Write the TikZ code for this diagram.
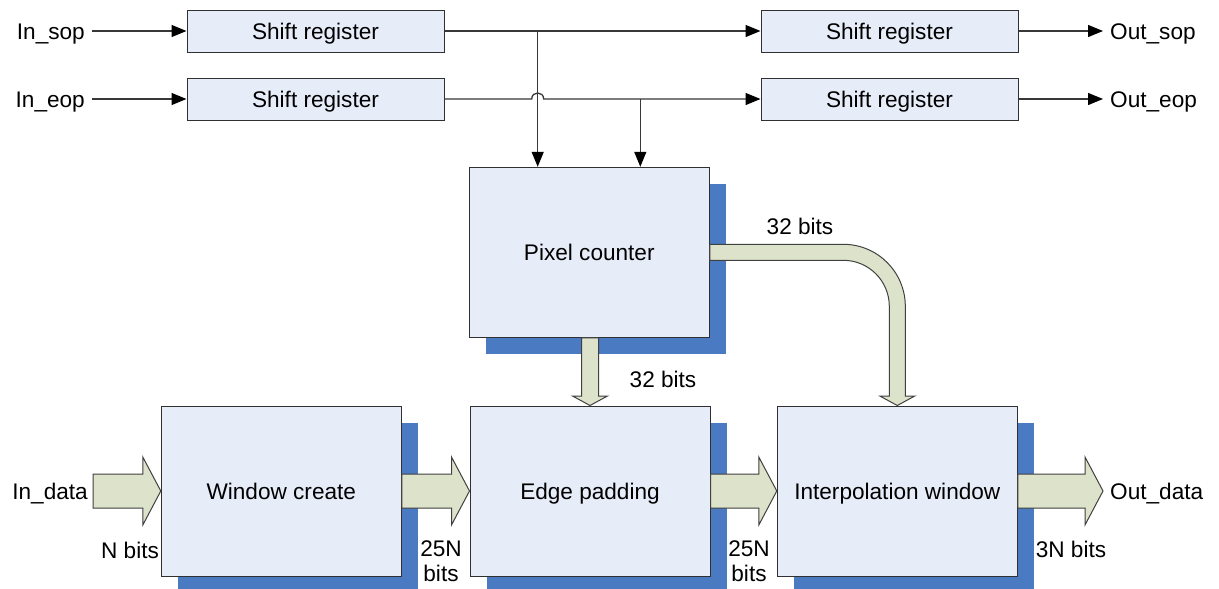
\documentclass[tikz,border=0pt]{standalone}
\usepackage{fontspec}
\setmainfont{Liberation Sans}
\usetikzlibrary{arrows.meta,calc,shadows}

\definecolor{boxfill}{HTML}{E7EDF8}
\definecolor{boxline}{HTML}{303030}
\definecolor{shadowblue}{HTML}{4A7AC2}
\definecolor{busfill}{HTML}{DDE2CB}
\definecolor{busline}{HTML}{404040}
\definecolor{wire}{HTML}{383838}

\tikzset{
  txt/.style={font=\fontsize{22.6}{25}\selectfont, inner sep=7pt,
    text height=16.2pt, text depth=0pt},
  txtml/.style={font=\fontsize{22.6}{25}\selectfont, inner sep=7pt},
  regbox/.style={txt, draw=boxline, fill=boxfill, line width=1pt,
    minimum width=257pt, minimum height=42pt},
  unitbox/.style={txt, draw=boxline, fill=boxfill, line width=1pt,
    minimum width=240pt, minimum height=170pt,
    drop shadow={shadow xshift=17pt, shadow yshift=-17pt,
      fill=shadowblue, draw=none, opacity=1}},
  signal/.style={draw=wire, line width=1.3pt,
    -{Triangle[length=15pt,width=12pt,color=black]}},
  blockarrow/.style={draw=busline, fill=busfill, line width=1pt, line join=miter},
}

% horizontal bus arrow: from #1 to the tip #2 (same height)
\newcommand\hbus[2]{%
  \draw[blockarrow] ($(#1)+(0,-17)$) -- ($(#2)+(-18,-17)$) -- ($(#2)+(-18,-34)$)
    -- (#2) -- ($(#2)+(-18,34)$) -- ($(#2)+(-18,17)$) -- ($(#1)+(0,17)$) -- cycle;}
% vertical bus arrow: from #1 down to the tip #2
\newcommand\vbus[2]{%
  \draw[blockarrow] ($(#1)+(-8.5,0)$) -- ($(#2)+(-8.5,-9.5)$) -- ($(#2)+(-17.5,-9.5)$)
    -- (#2) -- ($(#2)+(17.5,-9.5)$) -- ($(#2)+(8.5,-9.5)$) -- ($(#1)+(8.5,0)$) -- cycle;}

\begin{document}
\begin{tikzpicture}[x=1pt,y=-1pt]
\useasboundingbox (0,0) rectangle (1219,589);
\clip (0,0) rectangle (1219,589);

% shift registers
\node[regbox] (sr1) at (315.5,31) {Shift register};
\node[regbox] (sr2) at (315.5,99) {Shift register};
\node[regbox] (sr3) at (889.5,31) {Shift register};
\node[regbox] (sr4) at (889.5,99) {Shift register};

% processing units
\node[unitbox] (pc) at (589.3,252.3) {Pixel counter};
\node[unitbox] (wc) at (281.3,491) {Window create};
\node[unitbox] (ep) at (590,491) {Edge padding};
\node[unitbox] (im) at (897.3,491) {Interpolation window};

% port labels
\node[txt, anchor=east] (insop) at (92,31) {In\_sop};
\node[txt, anchor=east] (ineop) at (92,99) {In\_eop};
\coordinate (outsoptip) at (1103,31);
\coordinate (outeoptip) at (1103,99);
\node[txt, anchor=west] (outsop) at (outsoptip) {Out\_sop};
\node[txt, anchor=west] (outeop) at (outeoptip) {Out\_eop};

% control wires
\draw[signal] (insop.east) -- (sr1.west);
\draw[signal] (ineop.east) -- (sr2.west);
\draw[signal] (sr1.east) -- (sr3.west);
\coordinate (j1) at (537.7,31);
\coordinate (j2) at (640.3,99);
\draw[signal] (j1) -- (j1 |- pc.north);
\coordinate (hop) at (j1 |- sr2.east);
\draw[signal] (sr2.east) -- ($(hop)+(-6,0)$)
  .. controls ($(hop)+(-6,-8)$) and ($(hop)+(6,-8)$) .. ($(hop)+(6,0)$)
  -- (sr4.west);
\draw[signal] (j2) -- (j2 |- pc.north);
\draw[signal] (sr3.east) -- (outsoptip);
\draw[signal] (sr4.east) -- (outeoptip);

% data buses
\coordinate (indata) at (93,491);
\coordinate (outdata) at (1103,491);
\hbus{indata}{wc.west}
\hbus{wc.east}{ep.west}
\hbus{ep.east}{im.west}
\hbus{im.east}{outdata}
\vbus{pc.south -| ep.north}{ep.north}

% bent bus from the pixel counter to the interpolation window
\coordinate (cc) at ($(pc.east -| im.north)+(-54,54)$);
\draw[blockarrow] ($(pc.east)+(0,-8)$) -- ($(cc)+(0,-62)$)
  .. controls ($(cc)+(34.2,-62)$) and ($(cc)+(62,-34.2)$) .. ($(cc)+(62,0)$)
  -- ($(im.north)+(8,-9.5)$) -- ($(im.north)+(17.5,-9.5)$) -- (im.north)
  -- ($(im.north)+(-17.5,-9.5)$) -- ($(im.north)+(-8,-9.5)$)
  -- ($(cc)+(46,0)$)
  .. controls ($(cc)+(46,-25.4)$) and ($(cc)+(25.4,-46)$) .. ($(cc)+(0,-46)$)
  -- ($(pc.east)+(0,8)$) -- cycle;

% bus labels
\node[txt] (bw1) at (800,226) {32 bits};
\node[txt] (bw2) at (663,379) {32 bits};
\node[txt, anchor=east] (lindata) at ($(indata)+(2,0)$) {In\_data};
\node[txt, anchor=west] (loutdata) at (outdata) {Out\_data};
\node[txt] (bw3) at (130,550) {N bits};
\node[txtml, align=center] (bw4) at (441,561) {25N\\bits};
\node[txtml, align=center] (bw5) at (749,561) {25N\\bits};
\node[txt] (bw6) at (1071,549) {3N bits};
\end{tikzpicture}
\end{document}
